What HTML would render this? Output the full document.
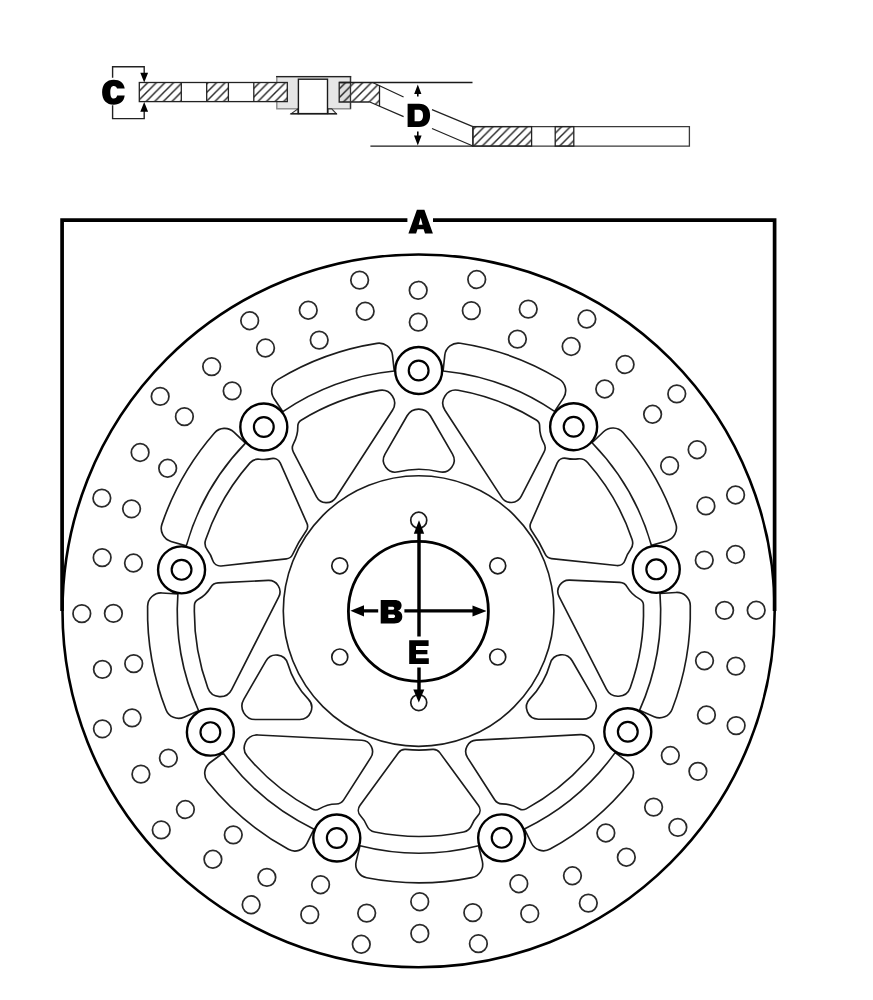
<!DOCTYPE html>
<html><head><meta charset="utf-8"><title>Brake disc</title>
<style>
html,body{margin:0;padding:0;background:#fff;}
body{width:873px;height:1000px;overflow:hidden;font-family:"Liberation Sans",sans-serif;}
svg{display:block}
</style></head><body>
<svg width="873" height="1000" viewBox="0 0 873 1000">
<rect width="873" height="1000" fill="#fff"/>

<!-- cross-section -->
<defs>
<pattern id="h" patternUnits="userSpaceOnUse" width="8.6" height="8.6" patternTransform="translate(139.3,82.5)">
<path d="M-1,9.6 L9.6,-1 M-1,1 L1,-1 M7.6,9.6 L9.6,7.6" stroke="#262626" stroke-width="1.45" fill="none"/>
</pattern>
<pattern id="h2" patternUnits="userSpaceOnUse" width="8.6" height="8.6" patternTransform="translate(476,126.5)">
<path d="M-1,9.6 L9.6,-1 M-1,1 L1,-1 M7.6,9.6 L9.6,7.6" stroke="#262626" stroke-width="1.45" fill="none"/>
</pattern>
</defs>
<g fill="none" stroke="#222" stroke-width="1.3">
<!-- bobbin grey body -->
<rect x="276.8" y="76.6" width="73.7" height="32.2" fill="#e6e6e6" stroke="#8a8a8a" stroke-width="1.4"/>
<line x1="276.1" y1="76.6" x2="351.2" y2="76.6" stroke="#222" stroke-width="1.4"/>
<!-- flange -->
<path d="M291.3,113.6 L298,108.9 V113.6 Z M336.3,113.6 L331.7,108.9 H328 V113.6 Z" fill="#f2f2f2" stroke="#333" stroke-width="1.1"/>
<line x1="290.5" y1="113.7" x2="337" y2="113.7" stroke="#222" stroke-width="1.5"/>
<!-- inner white box -->
<rect x="298.4" y="79.2" width="29.1" height="34.4" fill="#fff" stroke="#1a1a1a" stroke-width="1.4"/>
<!-- left disc strip -->
<rect x="139.3" y="82.5" width="148" height="19.1" fill="#fff" stroke="none"/>
<rect x="139.3" y="82.5" width="42" height="19.1" fill="url(#h)" stroke="none"/>
<rect x="206.7" y="82.5" width="21.7" height="19.1" fill="url(#h)" stroke="none"/>
<rect x="253.8" y="82.5" width="33.6" height="19.1" fill="url(#h)" stroke="none"/>
<rect x="139.3" y="82.5" width="148" height="19.1"/>
<path d="M181.3,82.5V101.6 M206.7,82.5V101.6 M228.4,82.5V101.6 M253.8,82.5V101.6"/>
<!-- right carrier strip top part -->
<path d="M339.2,82.5 H372.6 L379.5,85.5 V106.3 L369.8,102 H339.2 Z" fill="#fff" stroke="none"/>
<path d="M339.2,82.5 H372.6 L379.5,85.5 V106.3 L369.8,102 H339.2 Z" fill="url(#h)" stroke="none"/>
<rect x="339.2" y="82.5" width="11.3" height="19.5" fill="#000" fill-opacity="0.13" stroke="none"/>
<path d="M350.5,82.5 H339.2 V102 H369.8 M379.5,85.5 V106.3"/>
<line x1="350.5" y1="76.6" x2="350.5" y2="108.8" stroke="#333" stroke-width="1.3"/>
<!-- D extension lines -->
<line x1="339.2" y1="82.5" x2="472.5" y2="82.5" stroke="#1a1a1a" stroke-width="1.3"/>
<line x1="370.4" y1="146.1" x2="473" y2="146.1" stroke="#1a1a1a" stroke-width="1.3"/>
<!-- diagonals -->
<path d="M372.6,82.5 L403.6,97.0 M432,109.6 L472.9,126.6 M369.8,102 L403.6,116.6 M432,128.5 L472.9,146"/>
<!-- lower strip -->
<rect x="472.9" y="126.6" width="216.5" height="19.5" fill="#fff" stroke="none"/>
<rect x="472.9" y="126.6" width="58.7" height="19.5" fill="url(#h2)" stroke="none"/>
<rect x="555.2" y="126.6" width="18.6" height="19.5" fill="url(#h2)" stroke="none"/>
<path d="M472.9,146.1 V126.6 H689.4 V146.1 Z" stroke="#3a3a3a"/>
<rect x="472.9" y="126.6" width="58.7" height="19.5" stroke="#222"/>
<rect x="555.2" y="126.6" width="18.6" height="19.5" stroke="#222"/>
<!-- C bracket -->
<path d="M112.6,77.7 V66.7 H144.2 V74 M112.6,105.2 V118.6 H144.2 V111" stroke="#222" stroke-width="1.4"/>
<path d="M144.2,82.4 L140.3,72.8 H148.1 Z M144.2,102.1 L140.3,111.7 H148.1 Z" fill="#000" stroke="none"/>
<!-- D arrows -->
<path d="M417.8,84.6 L414.2,94 H421.4 Z M417.8,145.6 L414,135.4 H421.6 Z" fill="#000" stroke="none"/>
<path d="M417.8,93 V96.6 M417.8,131.4 V136" stroke="#000" stroke-width="1.6"/>
</g>

<!-- outer circle -->
<ellipse cx="418.6" cy="610.85" rx="356.1" ry="356.4" fill="none" stroke="#000" stroke-width="2.6"/>
<!-- A bracket -->
<path d="M62.1,611 V220.1 H407.4 M433,220.1 H774.6 V611" fill="none" stroke="#000" stroke-width="3.7"/>
<g transform="matrix(1,-0.005,0.0025,1,419,611.9)" fill="none" stroke="#2a2a2a" stroke-width="1.75">
<circle cx="0" cy="-321.6" r="8.8"/>
<circle cx="0" cy="-289.8" r="8.8"/>
<circle cx="58.55" cy="-332.08" r="8.8"/>
<circle cx="53.07" cy="-300.96" r="8.8"/>
<circle cx="109.99" cy="-302.21" r="8.8"/>
<circle cx="99.12" cy="-272.32" r="8.8"/>
<circle cx="168.6" cy="-292.02" r="8.8"/>
<circle cx="152.8" cy="-264.66" r="8.8"/>
<circle cx="206.72" cy="-246.36" r="8.8"/>
<circle cx="186.28" cy="-222" r="8.8"/>
<circle cx="258.31" cy="-216.75" r="8.8"/>
<circle cx="234.1" cy="-196.44" r="8.8"/>
<circle cx="278.51" cy="-160.8" r="8.8"/>
<circle cx="250.97" cy="-144.9" r="8.8"/>
<circle cx="316.86" cy="-115.33" r="8.8"/>
<circle cx="287.17" cy="-104.52" r="8.8"/>
<circle cx="316.71" cy="-55.85" r="8.8"/>
<circle cx="285.4" cy="-50.32" r="8.8"/>
<circle cx="337.2" cy="-0" r="8.8"/>
<circle cx="305.6" cy="-0" r="8.8"/>
<circle cx="316.71" cy="55.85" r="8.8"/>
<circle cx="285.4" cy="50.32" r="8.8"/>
<circle cx="316.86" cy="115.33" r="8.8"/>
<circle cx="287.17" cy="104.52" r="8.8"/>
<circle cx="278.51" cy="160.8" r="8.8"/>
<circle cx="250.97" cy="144.9" r="8.8"/>
<circle cx="258.31" cy="216.75" r="8.8"/>
<circle cx="234.1" cy="196.44" r="8.8"/>
<circle cx="206.72" cy="246.36" r="8.8"/>
<circle cx="186.28" cy="222" r="8.8"/>
<circle cx="168.6" cy="292.02" r="8.8"/>
<circle cx="152.8" cy="264.66" r="8.8"/>
<circle cx="109.99" cy="302.21" r="8.8"/>
<circle cx="99.12" cy="272.32" r="8.8"/>
<circle cx="58.55" cy="332.08" r="8.8"/>
<circle cx="53.07" cy="300.96" r="8.8"/>
<circle cx="0" cy="321.6" r="8.8"/>
<circle cx="0" cy="289.8" r="8.8"/>
<circle cx="-58.55" cy="332.08" r="8.8"/>
<circle cx="-53.07" cy="300.96" r="8.8"/>
<circle cx="-109.99" cy="302.21" r="8.8"/>
<circle cx="-99.12" cy="272.32" r="8.8"/>
<circle cx="-168.6" cy="292.02" r="8.8"/>
<circle cx="-152.8" cy="264.66" r="8.8"/>
<circle cx="-206.72" cy="246.36" r="8.8"/>
<circle cx="-186.28" cy="222" r="8.8"/>
<circle cx="-258.31" cy="216.75" r="8.8"/>
<circle cx="-234.1" cy="196.44" r="8.8"/>
<circle cx="-278.51" cy="160.8" r="8.8"/>
<circle cx="-250.97" cy="144.9" r="8.8"/>
<circle cx="-316.86" cy="115.33" r="8.8"/>
<circle cx="-287.17" cy="104.52" r="8.8"/>
<circle cx="-316.71" cy="55.85" r="8.8"/>
<circle cx="-285.4" cy="50.32" r="8.8"/>
<circle cx="-337.2" cy="0" r="8.8"/>
<circle cx="-305.6" cy="0" r="8.8"/>
<circle cx="-316.71" cy="-55.85" r="8.8"/>
<circle cx="-285.4" cy="-50.32" r="8.8"/>
<circle cx="-316.86" cy="-115.33" r="8.8"/>
<circle cx="-287.17" cy="-104.52" r="8.8"/>
<circle cx="-278.51" cy="-160.8" r="8.8"/>
<circle cx="-250.97" cy="-144.9" r="8.8"/>
<circle cx="-258.31" cy="-216.75" r="8.8"/>
<circle cx="-234.1" cy="-196.44" r="8.8"/>
<circle cx="-206.72" cy="-246.36" r="8.8"/>
<circle cx="-186.28" cy="-222" r="8.8"/>
<circle cx="-168.6" cy="-292.02" r="8.8"/>
<circle cx="-152.8" cy="-264.66" r="8.8"/>
<circle cx="-109.99" cy="-302.21" r="8.8"/>
<circle cx="-99.12" cy="-272.32" r="8.8"/>
<circle cx="-58.55" cy="-332.08" r="8.8"/>
<circle cx="-53.07" cy="-300.96" r="8.8"/>
</g>
<g fill="none" stroke="#1c1c1c" stroke-width="1.65">
<circle cx="418.6" cy="611" r="135.3"/>
<circle cx="418.75" cy="520.2" r="8" stroke-width="1.7"/>
<circle cx="497.73" cy="565.8" r="8" stroke-width="1.7"/>
<circle cx="497.73" cy="657" r="8" stroke-width="1.7"/>
<circle cx="418.75" cy="702.6" r="8" stroke-width="1.7"/>
<circle cx="339.77" cy="657" r="8" stroke-width="1.7"/>
<circle cx="339.77" cy="565.8" r="8" stroke-width="1.7"/>
</g>
<g transform="matrix(1,-0.001,0.0012,1,418.95,611.45)" fill="none" stroke="#1c1c1c" stroke-width="1.65" stroke-linejoin="round">
<path d="M24.43,-240.46L26.16,-256.32A13.5,13.5 0 0 1 41.66,-268.18A271.4,271.4 0 0 1 140.48,-232.22A13.5,13.5 0 0 1 144.71,-213.17L135.86,-199.91A241.7,241.7 0 0 0 24.43,-240.46Z"/>
<path d="M173.28,-168.5L184.8,-179.53A13.5,13.5 0 0 1 204.3,-178.67A271.4,271.4 0 0 1 256.88,-87.59A13.5,13.5 0 0 1 247.88,-70.27L232.57,-65.81A241.7,241.7 0 0 0 173.28,-168.5Z"/>
<path d="M241.05,-17.7L256.96,-18.74A13.5,13.5 0 0 1 271.34,-5.55A271.4,271.4 0 0 1 253.08,98.02A13.5,13.5 0 0 1 235.06,105.5L220.46,99.08A241.7,241.7 0 0 0 241.05,-17.7Z"/>
<path d="M196.03,141.38L208.89,150.82A13.5,13.5 0 0 1 211.43,170.17A271.4,271.4 0 0 1 130.87,237.76A13.5,13.5 0 0 1 112.25,231.91L105.2,217.61A241.7,241.7 0 0 0 196.03,141.38Z"/>
<path d="M59.29,234.31L63.08,249.81A13.5,13.5 0 0 1 52.58,266.26A271.4,271.4 0 0 1 -52.58,266.26A13.5,13.5 0 0 1 -63.08,249.81L-59.29,234.31A241.7,241.7 0 0 0 59.29,234.31Z"/>
<path d="M-105.2,217.61L-112.25,231.91A13.5,13.5 0 0 1 -130.87,237.76A271.4,271.4 0 0 1 -211.43,170.17A13.5,13.5 0 0 1 -208.89,150.82L-196.03,141.38A241.7,241.7 0 0 0 -105.2,217.61Z"/>
<path d="M-220.46,99.08L-235.06,105.5A13.5,13.5 0 0 1 -253.08,98.02A271.4,271.4 0 0 1 -271.34,-5.55A13.5,13.5 0 0 1 -256.96,-18.74L-241.05,-17.7A241.7,241.7 0 0 0 -220.46,99.08Z"/>
<path d="M-232.57,-65.81L-247.88,-70.27A13.5,13.5 0 0 1 -256.88,-87.59A271.4,271.4 0 0 1 -204.3,-178.67A13.5,13.5 0 0 1 -184.8,-179.53L-173.28,-168.5A241.7,241.7 0 0 0 -232.57,-65.81Z"/>
<path d="M-135.86,-199.91L-144.71,-213.17A13.5,13.5 0 0 1 -140.48,-232.22A271.4,271.4 0 0 1 -41.66,-268.18A13.5,13.5 0 0 1 -26.16,-256.32L-24.43,-240.46A241.7,241.7 0 0 0 -135.86,-199.91Z"/>
<path d="M11.6,-195.7L33.75,-157.35A12,12 0 0 1 20.47,-139.7A85,85 0 0 0 -20.47,-139.7A12,12 0 0 1 -33.75,-157.35L-11.6,-195.7A13.4,13.4 0 0 1 11.6,-195.7Z"/>
<path d="M163.68,107.9L119.39,107.9A12,12 0 0 1 110.75,87.57A85,85 0 0 0 131.22,52.12A12,12 0 0 1 153.14,49.45L175.28,87.8A13.4,13.4 0 0 1 163.68,107.9Z"/>
<path d="M-175.28,87.8L-153.14,49.45A12,12 0 0 1 -131.22,52.12A85,85 0 0 0 -110.75,87.57A12,12 0 0 1 -119.39,107.9L-163.68,107.9A13.4,13.4 0 0 1 -175.28,87.8Z"/>
<path d="M39.42,-221.11A224.6,224.6 0 0 1 117.58,-191.36A7,7 0 0 1 120.92,-185.26A34,34 0 0 0 125.23,-168.04A9,9 0 0 1 125.37,-159.52L102.39,-115A11.3,11.3 0 0 1 82.87,-114.03L26.23,-201.24A13,13 0 0 1 39.42,-221.11Z"/>
<path d="M-102.39,-115L-125.37,-159.52A9,9 0 0 1 -125.23,-168.04A34,34 0 0 0 -120.92,-185.26A7,7 0 0 1 -117.58,-191.36A224.6,224.6 0 0 1 -39.42,-221.11A13,13 0 0 1 -26.23,-201.24L-82.87,-114.03A11.3,11.3 0 0 1 -102.39,-115Z"/>
<path d="M171.78,144.69A224.6,224.6 0 0 1 106.93,197.51A7,7 0 0 1 99.98,197.35A34,34 0 0 0 82.91,192.47A9,9 0 0 1 75.47,188.33L48.4,146.17A11.3,11.3 0 0 1 57.32,128.78L161.16,123.34A13,13 0 0 1 171.78,144.69Z"/>
<path d="M150.78,-31.17L200.83,-28.81A9,9 0 0 1 208.14,-24.43A34,34 0 0 0 220.9,-12.09A7,7 0 0 1 224.52,-6.15A224.6,224.6 0 0 1 211.2,76.42A13,13 0 0 1 187.39,77.9L140.18,-14.75A11.3,11.3 0 0 1 150.78,-31.17Z"/>
<path d="M-211.2,76.42A224.6,224.6 0 0 1 -224.52,-6.15A7,7 0 0 1 -220.9,-12.09A34,34 0 0 0 -208.14,-24.43A9,9 0 0 1 -200.83,-28.81L-150.78,-31.17A11.3,11.3 0 0 1 -140.18,-14.75L-187.39,77.9A13,13 0 0 1 -211.2,76.42Z"/>
<path d="M-48.4,146.17L-75.47,188.33A9,9 0 0 1 -82.91,192.47A34,34 0 0 0 -99.98,197.35A7,7 0 0 1 -106.93,197.51A224.6,224.6 0 0 1 -171.78,144.69A13,13 0 0 1 -161.16,123.34L-57.32,128.78A11.3,11.3 0 0 1 -48.4,146.17Z"/>
<path d="M147.57,-152.96A32.5,32.5 0 0 0 159.13,-152.39A11,11 0 0 1 168.81,-148.76A225,225 0 0 1 213.23,-71.81A11,11 0 0 1 211.54,-61.61A32.5,32.5 0 0 0 206.25,-51.32A8,8 0 0 1 197.74,-45.7L132.6,-52.72A8,8 0 0 1 126.17,-57.36A138.6,138.6 0 0 0 112.76,-80.59A8,8 0 0 1 111.96,-88.47L138.45,-148.4A8,8 0 0 1 147.57,-152.96Z"/>
<path d="M58.68,204.28A32.5,32.5 0 0 0 52.41,214.01A11,11 0 0 1 44.42,220.57A225,225 0 0 1 -44.42,220.57A11,11 0 0 1 -52.41,214.01A32.5,32.5 0 0 0 -58.68,204.28A8,8 0 0 1 -59.29,194.1L-20.64,141.19A8,8 0 0 1 -13.41,137.95A138.6,138.6 0 0 0 13.41,137.95A8,8 0 0 1 20.64,141.19L59.29,194.1A8,8 0 0 1 58.68,204.28Z"/>
<path d="M-206.25,-51.32A32.5,32.5 0 0 0 -211.54,-61.61A11,11 0 0 1 -213.23,-71.81A225,225 0 0 1 -168.81,-148.76A11,11 0 0 1 -159.13,-152.39A32.5,32.5 0 0 0 -147.57,-152.96A8,8 0 0 1 -138.45,-148.4L-111.96,-88.47A8,8 0 0 1 -112.76,-80.59A138.6,138.6 0 0 0 -126.17,-57.36A8,8 0 0 1 -132.6,-52.72L-197.74,-45.7A8,8 0 0 1 -206.25,-51.32Z"/>
<g stroke="#000" fill="#fff">
<circle cx="0" cy="-241" r="23.5" stroke-width="2.4"/>
<circle cx="0" cy="-241" r="9.9" stroke-width="2.2"/>
<circle cx="154.91" cy="-184.62" r="23.5" stroke-width="2.4"/>
<circle cx="154.91" cy="-184.62" r="9.9" stroke-width="2.2"/>
<circle cx="237.34" cy="-41.85" r="23.5" stroke-width="2.4"/>
<circle cx="237.34" cy="-41.85" r="9.9" stroke-width="2.2"/>
<circle cx="208.71" cy="120.5" r="23.5" stroke-width="2.4"/>
<circle cx="208.71" cy="120.5" r="9.9" stroke-width="2.2"/>
<circle cx="82.43" cy="226.47" r="23.5" stroke-width="2.4"/>
<circle cx="82.43" cy="226.47" r="9.9" stroke-width="2.2"/>
<circle cx="-82.43" cy="226.47" r="23.5" stroke-width="2.4"/>
<circle cx="-82.43" cy="226.47" r="9.9" stroke-width="2.2"/>
<circle cx="-208.71" cy="120.5" r="23.5" stroke-width="2.4"/>
<circle cx="-208.71" cy="120.5" r="9.9" stroke-width="2.2"/>
<circle cx="-237.34" cy="-41.85" r="23.5" stroke-width="2.4"/>
<circle cx="-237.34" cy="-41.85" r="9.9" stroke-width="2.2"/>
<circle cx="-154.91" cy="-184.62" r="23.5" stroke-width="2.4"/>
<circle cx="-154.91" cy="-184.62" r="9.9" stroke-width="2.2"/>
</g>
</g>
<circle cx="418.4" cy="611.3" r="70" fill="none" stroke="#000" stroke-width="2.8"/>
<g stroke="#000" fill="none">
<path d="M419,533 V636.4 M419,667.4 V690.5" stroke-width="3.45"/>
<path d="M363,610.9 H378.2 M404.4,610.9 H473.5" stroke-width="3.4"/>
</g>
<g fill="#000" stroke="none">
<path d="M419,520.3 L413.8,533.7 H424.2 Z"/>
<path d="M418.8,702.4 L413.3,689.6 H424.3 Z"/>
<path d="M350.4,610.8 L364,605.2 V616.4 Z"/>
<path d="M486.6,611 L472.5,605.4 V616.6 Z"/>
</g>

<g fill="#000" stroke="none">
<!-- A -->
<path fill-rule="evenodd" d="M408.4,233.5 L416.9,209.8 H424.4 L432.9,233.5 H425 L423.6,229.2 H417.5 L416.1,233.5 Z M420.65,217.6 L418.7,224.8 H422.6 Z"/>
<!-- B -->
<path fill-rule="evenodd" d="M380.7,599.9 H394.5 C399.2,599.9 401.6,602 401.6,605.4 C401.6,608 400.3,609.9 398,610.8 C400.8,611.6 402.3,613.7 402.3,616.6 C402.3,621 399.4,623.5 394.3,623.5 H380.7 Z M388.3,606.8 V609.8 H392 C393.5,609.8 394.2,609.3 394.2,608.3 C394.2,607.3 393.5,606.8 392,606.8 Z M388.3,614.6 V618.1 H392.6 C394.3,618.1 395.1,617.5 395.1,616.35 C395.1,615.2 394.3,614.6 392.6,614.6 Z"/>
<!-- E -->
<path d="M409.2,640.2 H428.6 V646 H416 V649.9 H427.4 V654.2 H416 V658.2 H428.8 V663.9 H409.2 Z"/>
<!-- C -->
<path d="M124.7,88.6 H117 C116.6,86.9 115.5,86 113.8,86 C111.5,86 110.3,88 110.3,92.3 C110.3,96.6 111.5,98.6 113.8,98.6 C115.6,98.6 116.7,97.6 117.1,95.6 H124.7 C124,101.4 120,104.8 113.7,104.8 C106.6,104.8 102.1,100.1 102.1,92.3 C102.1,84.5 106.6,79.8 113.7,79.8 C119.9,79.8 123.9,83 124.7,88.6 Z"/>
<!-- D -->
<path fill-rule="evenodd" d="M407.6,103.8 H419 C426,103.8 430.1,108 430.1,115.3 C430.1,122.7 426,127 419,127 H407.6 Z M414.6,109.8 V121.2 H418 C421.4,121.2 423,119.4 423,115.4 C423,111.5 421.4,109.8 418,109.8 Z"/>
</g>

</svg>
</body></html>
